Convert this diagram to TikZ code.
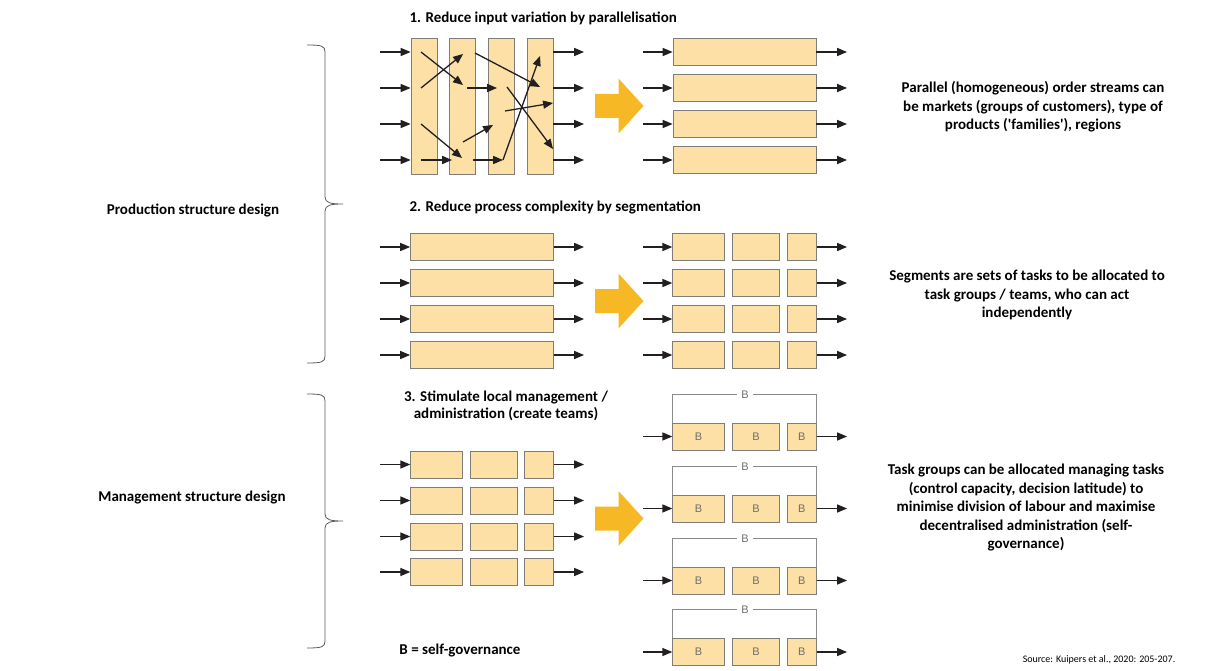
\documentclass[tikz,border=0pt]{standalone}
\usepackage{fontspec}
\setmainfont{Carlito}
\newfontfamily\labfont{Liberation Sans}
\usetikzlibrary{arrows}

\begin{document}
\begin{tikzpicture}[x=1pt,y=-1pt,
  cell/.style={draw=cellLine,fill=cellFill,line width=0.9pt,inner sep=0pt,minimum height=27pt},
  arr/.style={->,>=triangle 45,line width=1.3pt,color=arrowColor},
  title/.style={font=\fontsize{15}{17}\selectfont\bfseries,align=center},
  note/.style={font=\fontsize{15}{18.5}\selectfont\bfseries,align=center},
  blab/.style={font=\labfont\fontsize{11}{11}\selectfont,text=labColor,inner sep=0pt}]
\useasboundingbox (0,0) rectangle (1206,671);
\definecolor{cellFill}{RGB}{252,224,166}
\definecolor{cellLine}{RGB}{128,124,118}
\definecolor{arrowColor}{RGB}{35,31,32}
\definecolor{bigArrow}{RGB}{246,185,37}
\definecolor{labColor}{RGB}{110,110,110}
\definecolor{braceColor}{RGB}{90,90,90}

% 1. parallelisation
\node[title,anchor=west] (title1) at (406,18) {1. Reduce input variation by parallelisation};
\foreach \x/\n in {424/1,462.5/2,501.5/3,540/4}
  \node[cell,minimum width=26pt,minimum height=136pt] (col\n) at (\x,106) {};
\foreach \y [count=\i] in {52,88,124,160} {
  \coordinate (pin\i) at (380,\y);
  \coordinate (pout\i) at (584,\y);
  \draw[arr] (pin\i) -- (pin\i -| col1.west);
  \draw[arr] (pout\i -| col4.east) -- (pout\i);
  \node[cell,minimum width=143pt] (par\i) at (744.5,\y) {};
  \coordinate (qin\i) at (643,\y);
  \coordinate (qout\i) at (847,\y);
  \draw[arr] (qin\i) -- (par\i.west);
  \draw[arr] (par\i.east) -- (qout\i);
}
\foreach \n/\p in {a1/{421,52},a2/{463,85},b1/{421,88},b2/{463,54},c1/{421,124},c2/{462,158},
  d1/{421,160},d2/{452,160},e1/{475,53},e2/{540,87},f1/{467,88},f2/{497,88},g1/{463,142},g2/{493,125},
  h1/{473,160},h2/{503,160},i1/{503,160},i2/{540,56},j1/{505,111},j2/{553,103},k1/{507,87},k2/{553,149}}
  \coordinate (\n) at (\p);
\foreach \s in {a,b,c,d,e,f,g,h,i,j,k}
  \draw[arr] (\s1) -- (\s2);

% big arrows
\foreach \c in {106,301,518.5}
  \fill[bigArrow] (595,\c-12) -- (618.5,\c-12) -- (618.5,\c-27.5) -- (643.5,\c)
    -- (618.5,\c+27.5) -- (618.5,\c+12) -- (595,\c+12) -- cycle;

% 2. segmentation
\node[title,anchor=west] (title2) at (406,207) {2. Reduce process complexity by segmentation};
\foreach \y [count=\i] in {247,283,319,355} {
  \node[cell,minimum width=143pt] (seg\i) at (482,\y) {};
  \coordinate (sin\i) at (380,\y);
  \coordinate (sout\i) at (584,\y);
  \draw[arr] (sin\i) -- (seg\i.west);
  \draw[arr] (seg\i.east) -- (sout\i);
  \node[cell,minimum width=51.6pt] (sa\i) at (698.5,\y) {};
  \node[cell,minimum width=46.6pt] (sb\i) at (756,\y) {};
  \node[cell,minimum width=28.7pt] (sc\i) at (801.7,\y) {};
  \coordinate (tin\i) at (643,\y);
  \coordinate (tout\i) at (847,\y);
  \draw[arr] (tin\i) -- (sa\i.west);
  \draw[arr] (sc\i.east) -- (tout\i);
}

% 3. local management
\node[title] (title3) at (506,406) {3. Stimulate local management /\\administration (create teams)};
\foreach \y [count=\i] in {464.5,500.5,536.5,572} {
  \node[cell,minimum width=51.6pt] (ma\i) at (436.5,\y) {};
  \node[cell,minimum width=47pt] (mb\i) at (493.5,\y) {};
  \node[cell,minimum width=28.3pt] (mc\i) at (539,\y) {};
  \coordinate (min\i) at (380,\y);
  \coordinate (mout\i) at (584,\y);
  \draw[arr] (min\i) -- (ma\i.west);
  \draw[arr] (mc\i.east) -- (mout\i);
}
\foreach \y [count=\i] in {436.5,508.5,580.5,652} {
  \node[cell,minimum width=51.6pt] (ta\i) at (698.5,\y) {};
  \node[cell,minimum width=46.6pt] (tb\i) at (756,\y) {};
  \node[cell,minimum width=28.7pt] (tc\i) at (801.7,\y) {};
  \node[blab] at (ta\i) {B};
  \node[blab] at (tb\i) {B};
  \node[blab] at (tc\i) {B};
  \draw[color=labColor!80,line width=0.8pt] (ta\i.north west) -- ++(0,-28.5) -| (tc\i.north east);
  \node[blab,fill=white,inner xsep=4pt,inner ysep=1pt] (team\i) at (745,\y-42) {B};
  \coordinate (uin\i) at (643,\y);
  \coordinate (uout\i) at (847,\y);
  \draw[arr] (uin\i) -- (ta\i.west);
  \draw[arr] (tc\i.east) -- (uout\i);
}
\node[title] (legend) at (460,651) {B = self-governance};

% braces and left labels
\foreach \t/\m/\b in {45/204/363,394/521/648}
  \draw[color=braceColor,line width=0.8pt] (307,\t) .. controls (322,\t) and (325,\t+1) .. (325,\t+7)
    -- (325,\m-7) .. controls (325,\m-1) and (331,\m) .. (343,\m)
    .. controls (331,\m) and (325,\m+1) .. (325,\m+7)
    -- (325,\b-7) .. controls (325,\b-1) and (322,\b) .. (307,\b);
\node[title] (prod) at (193,210) {Production structure design};
\node[title] (mgmt) at (192,498) {Management structure design};

% notes
\node[note] (note1) at (1033,107) {Parallel (homogeneous) order streams can\\be markets (groups of customers), type of\\products (\textquotesingle families\textquotesingle), regions};
\node[note] (note2) at (1027,295) {Segments are sets of tasks to be allocated to\\task groups / teams, who can act\\independently};
\node[note] (note3) at (1026,508) {Task groups can be allocated managing tasks\\(control capacity, decision latitude) to\\minimise division of labour and maximise\\decentralised administration (self-\\governance)};
\node[font=\fontsize{10}{12}\selectfont] (source) at (1099,660) {Source: Kuipers et al., 2020: 205-207.};
\end{tikzpicture}
\end{document}
